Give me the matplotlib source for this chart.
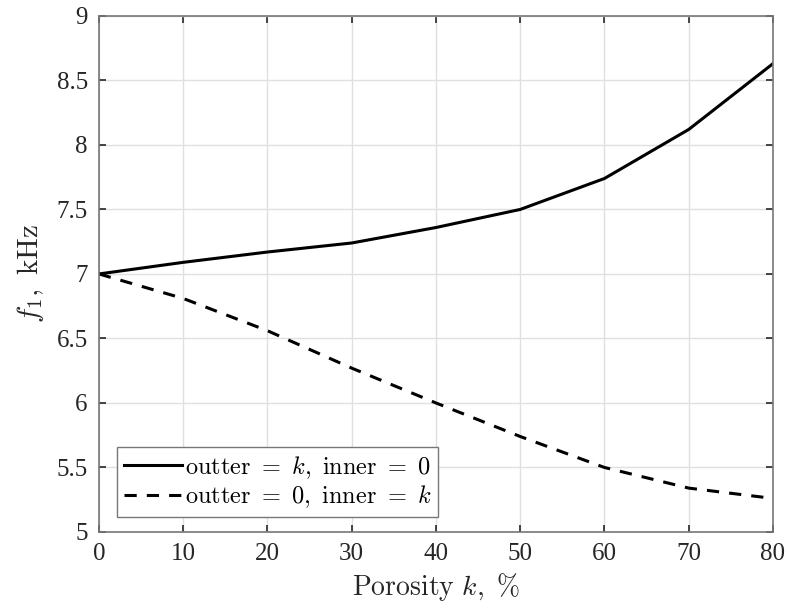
import matplotlib
matplotlib.use("Agg")
import matplotlib.pyplot as plt

# porosity, %
porosity = [0, 10, 20, 30, 40, 50, 60, 70, 80]
# first natural frequency, kHz
f1_outer = [7.00, 7.09, 7.17, 7.24, 7.36, 7.50, 7.74, 8.12, 8.63]
f1_inner = [7.00, 6.81, 6.56, 6.27, 6.00, 5.74, 5.50, 5.34, 5.26]

xticks = [0, 10, 20, 30, 40, 50, 60, 70, 80]
yticks = [5, 5.5, 6, 6.5, 7, 7.5, 8, 8.5, 9]
ytick_labels = ["5", "5.5", "6", "6.5", "7", "7.5", "8", "8.5", "9"]

plt.rcParams["mathtext.fontset"] = "cm"
plt.rcParams["font.family"] = ["Liberation Serif", "DejaVu Serif"]

fig = plt.figure(figsize=(7.88, 6.13), dpi=100)
ax = fig.add_axes([0.1256, 0.1322, 0.8553, 0.8418])

ax.plot(porosity, f1_outer, color="black", lw=2.2,
        label=r"$\mathrm{outter}\ =\ k,\ \mathrm{inner}\ =\ 0$")
ax.plot(porosity, f1_inner, color="black", lw=2.2, dashes=(4, 3.3),
        label=r"$\mathrm{outter}\ =\ 0,\ \mathrm{inner}\ =\ k$")

ax.set_xlim(0, 80)
ax.set_ylim(5, 9)
ax.set_xticks(xticks)
ax.set_yticks(yticks)
ax.set_yticklabels(ytick_labels)
ax.tick_params(direction="in", length=5, width=1.2, labelsize=18,
               top=True, right=True, color="#262626", labelcolor="#262626", pad=8)
ax.grid(True, color="#e0e0e0", lw=1)
for s in ax.spines.values():
    s.set_color("#777777")
    s.set_linewidth(1.2)

ax.set_xlabel(r"$\mathrm{Porosity}\ k,\ \%$", fontsize=20, color="#262626", labelpad=4)
ax.set_ylabel(r"$f_1,\ \mathrm{kHz}$", fontsize=21, color="#262626", labelpad=8)

leg = ax.legend(loc="lower left", bbox_to_anchor=(0.027, 0.029), borderaxespad=0,
                fontsize=17.5, handlelength=2.4, handletextpad=0.1, labelspacing=0.12,
                fancybox=False, framealpha=1, borderpad=0.28)
leg.get_frame().set_edgecolor("#777777")
leg.get_frame().set_linewidth(1.0)

fig.savefig("out.png", dpi=100)
